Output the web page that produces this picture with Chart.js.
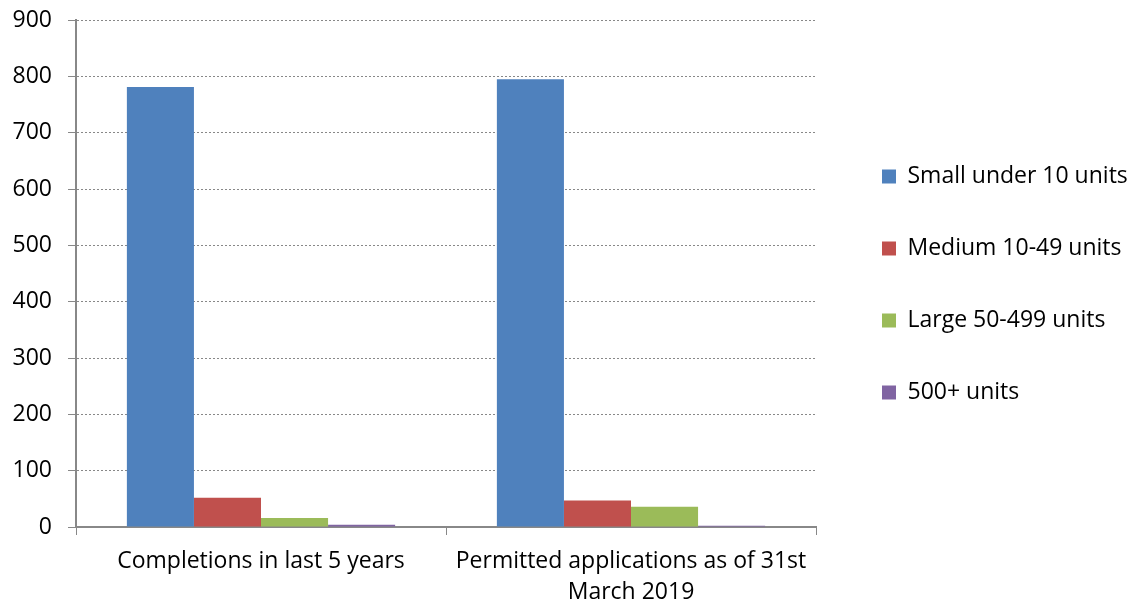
<!DOCTYPE html>
<html>
<head>
<meta charset="utf-8">
<script src="https://cdn.jsdelivr.net/npm/chart.js@4"></script>
<style>
    html, body { margin: 0; padding: 0; background: #fff; }
    #wrap { width: 1130px; height: 605px; }
</style>
</head>
<body>
<div id="wrap"><canvas id="unitsChart"></canvas></div>
<script>
const categories = ['Completions in last 5 years', ['Permitted applications as of 31st', 'March 2019']];
const seriesNames = ['Small under 10 units', 'Medium 10-49 units', 'Large 50-499 units', '500+ units'];
const smallUnits = [781, 795];
const mediumUnits = [52, 47];
const largeUnits = [16, 36];
const hugeUnits = [4, 2];
const seriesColors = ['#4F81BD', '#C0504D', '#9BBB59', '#8064A2'];

const seriesValues = [smallUnits, mediumUnits, largeUnits, hugeUnits];

// legend column: fixed width, and moved so it sits like the original
const legendNudge = {
    id: 'legendNudge',
    beforeLayout(chart) {
        const lg = chart.legend;
        if (!lg || lg._fixedWidth) return;
        const fit = lg.fit.bind(lg);
        lg.fit = function() {
            fit();
            this.width = 314;
        };
        lg._fixedWidth = true;
    },
    afterLayout(chart) {
        const lg = chart.legend;
        lg.top -= 18;
        lg.bottom -= 18;
        lg.left += 17;
        lg.right += 17;
    }
};

Chart.defaults.font.family = '"Open Sans", sans-serif';
Chart.defaults.color = '#000';

function drawChart() {
    new Chart(document.getElementById('unitsChart'), {
        type: 'bar',
        data: {
            labels: categories,
            datasets: seriesNames.map((name, i) => ({
                label: name,
                data: seriesValues[i],
                backgroundColor: seriesColors[i],
                borderWidth: 0,
                categoryPercentage: 0.725,
                barPercentage: 1
            }))
        },
        options: {
            responsive: true,
            maintainAspectRatio: false,
            animation: false,
            layout: {
                padding: { top: 0, right: 0, bottom: 0, left: 0 }
            },
            plugins: {
                legend: {
                    position: 'right',
                    labels: {
                        boxWidth: 14,
                        boxHeight: 14,
                        padding: 49,
                        font: { size: 23 }
                    }
                },
                tooltip: { enabled: false }
            },
            scales: {
                x: {
                    afterFit(scale) { scale.height = 78; },
                    grid: {
                        display: true,
                        drawOnChartArea: false,
                        drawTicks: true,
                        tickLength: 8,
                        offset: true,
                        color: '#888'
                    },
                    border: { color: '#888', width: 2 },
                    ticks: {
                        maxRotation: 0,
                        autoSkip: false,
                        padding: 11,
                        font: { size: 23, lineHeight: 1.35 }
                    }
                },
                y: {
                    min: 0,
                    max: 900,
                    afterFit(scale) {
                        scale.width = 76;
                        scale.paddingTop = 20;
                    },
                    grid: {
                        color: '#888',
                        tickColor: '#888',
                        tickLength: 8,
                        tickBorderDash: []
                    },
                    border: { color: '#888', width: 2, dash: [2, 2] },
                    ticks: {
                        stepSize: 100,
                        padding: 16,
                        font: { size: 23 }
                    }
                }
            }
        },
        plugins: [legendNudge]
    });
}

document.fonts.load('23px "Open Sans"').then(drawChart, drawChart);
</script>
</body>
</html>
